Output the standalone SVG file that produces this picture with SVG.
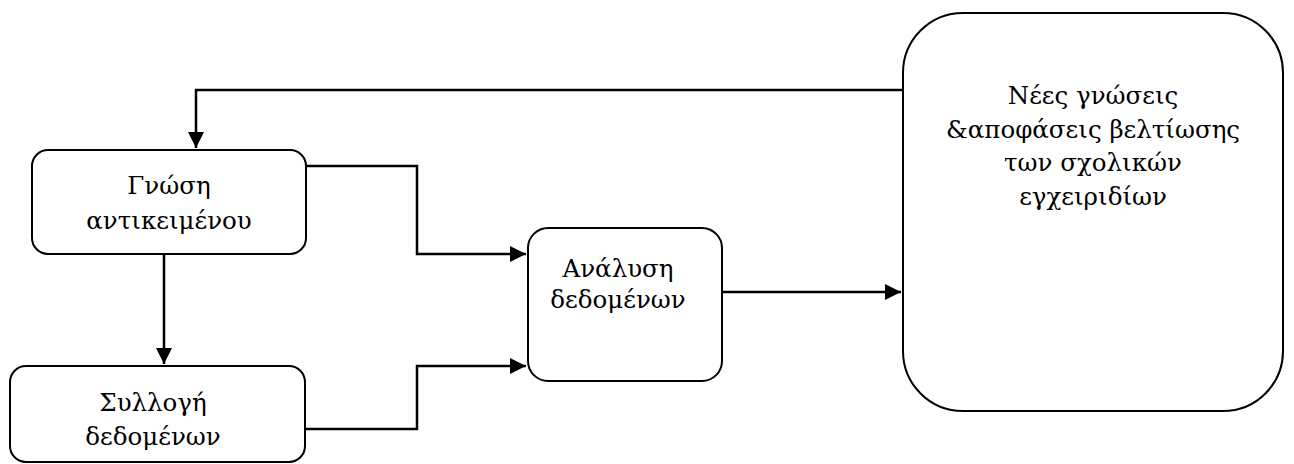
<svg xmlns="http://www.w3.org/2000/svg" width="1294" height="464" viewBox="0 0 1294 464">
<style>
.box{fill:#fff;stroke:#000;stroke-width:2}
.c{fill:none;stroke:#000;stroke-width:2.5}
.t{font-family:"DejaVu Serif","Liberation Serif",serif;font-size:24.5px;fill:#000;text-anchor:middle}
</style>
<defs>
<marker id="ah" viewBox="0 0 10 10" refX="10" refY="5" markerWidth="6.5" markerHeight="6.5" markerUnits="strokeWidth" orient="auto">
<path d="M0,0 L10,5 L0,10 Z" fill="#000"/>
</marker>
</defs>
<rect width="1294" height="464" fill="#fff"/>
<g id="connectors">
<path class="c" d="M903,90 H196 V148" marker-end="url(#ah)"/>
<path class="c" d="M306,166 H417 V254 H526" marker-end="url(#ah)"/>
<path class="c" d="M305,429 H417 V366 H526" marker-end="url(#ah)"/>
<path class="c" d="M164,254 V364" marker-end="url(#ah)"/>
<path class="c" d="M722,292 H901" marker-end="url(#ah)"/>
</g>
<g id="n1">
<rect class="box" x="32" y="150" width="274" height="104" rx="16"/>
<text class="t" x="169" y="194">Γνώση</text>
<text class="t" x="169" y="229">αντικειμένου</text>
</g>
<g id="n2">
<rect class="box" x="10" y="366" width="295" height="96" rx="16"/>
<text class="t" x="153" y="411">Συλλογή</text>
<text class="t" x="153" y="445">δεδομένων</text>
</g>
<g id="n3">
<rect class="box" x="528" y="228" width="194" height="153" rx="20"/>
<text class="t" x="618" y="277">Ανάλυση</text>
<text class="t" x="618" y="308">δεδομένων</text>
</g>
<g id="n4">
<rect class="box" x="903" y="13" width="380" height="398" rx="60"/>
<text class="t" x="1093" y="104">Νέες γνώσεις</text>
<text class="t" x="1093" y="138">&amp;αποφάσεις βελτίωσης</text>
<text class="t" x="1093" y="171">των σχολικών</text>
<text class="t" x="1093" y="205">εγχειριδίων</text>
</g>
</svg>
